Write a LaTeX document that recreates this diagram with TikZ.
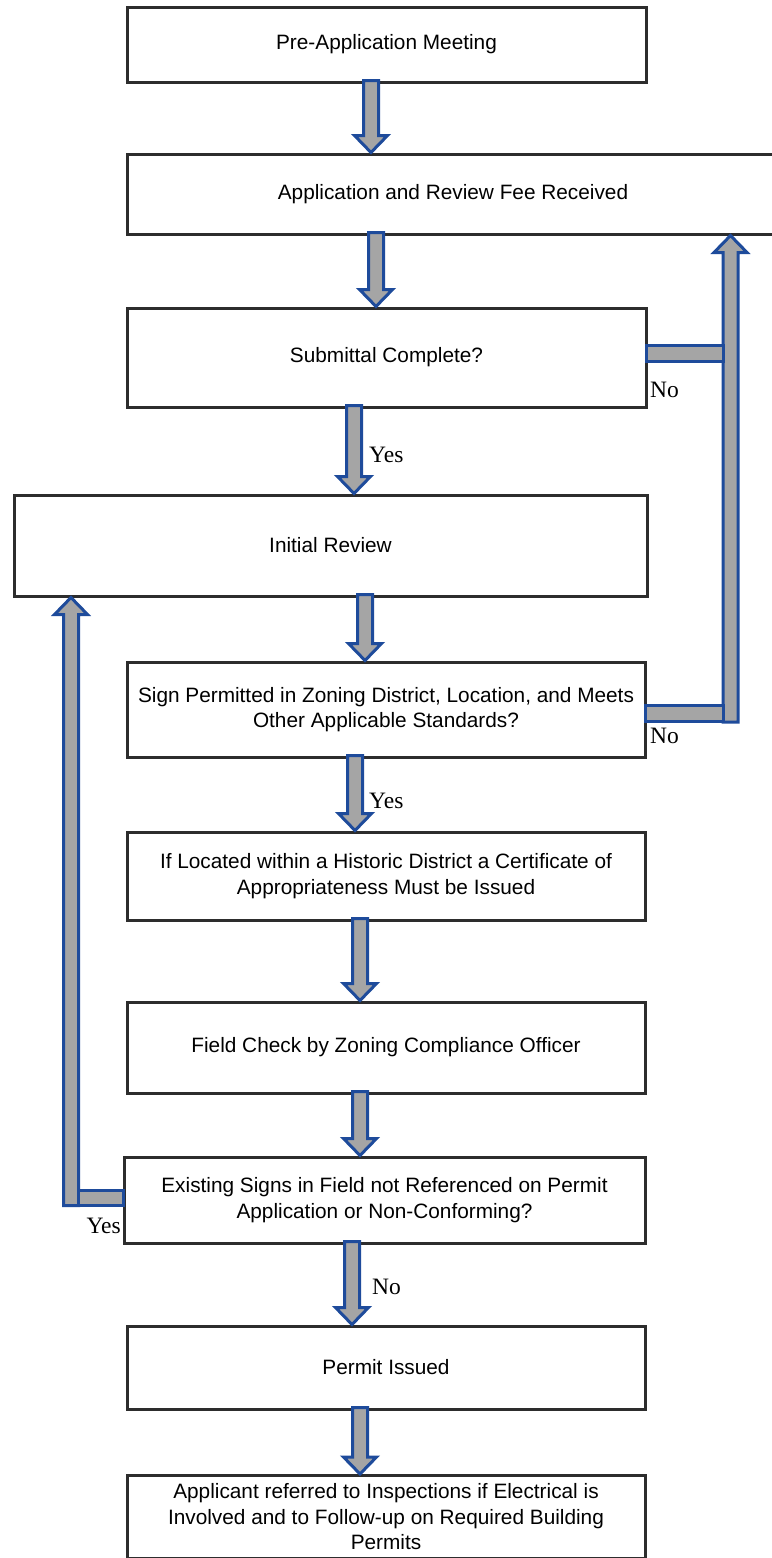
\documentclass[tikz,border=0pt]{standalone}
\usepackage{fontspec}
\setmainfont{Liberation Sans}
\newfontfamily\tms{Liberation Serif}
\usetikzlibrary{calc}
\definecolor{arrblue}{RGB}{30,75,155}
\definecolor{arrgray}{RGB}{165,165,165}
\definecolor{boxline}{RGB}{45,45,45}
\def\sw{7.5pt}
\def\hw{16.5pt}
\def\hl{17pt}
\newcommand\downarr[3]{\draw[barrow] let \p1=(#1.south), \p2=(#2.north) in
 ({#3pt-\sw},{\y1+3pt}) -- ({#3pt+\sw},{\y1+3pt}) -- ({#3pt+\sw},{\y2+\hl}) -- ({#3pt+\hw},{\y2+\hl}) -- ({#3pt},{\y2}) -- ({#3pt-\hw},{\y2+\hl}) -- ({#3pt-\sw},{\y2+\hl}) -- cycle;}
\newcommand\uparr[3]{\draw[barrow] let \p1=(#1), \p2=(#2.south) in
 ({#3pt-\sw},{\y1}) -- ({#3pt+\sw},{\y1}) -- ({#3pt+\sw},{\y2-\hl}) -- ({#3pt+\hw},{\y2-\hl}) -- ({#3pt},{\y2}) -- ({#3pt-\hw},{\y2-\hl}) -- ({#3pt-\sw},{\y2-\hl}) -- cycle;}
\tikzset{
  box/.style={draw=boxline, line width=3pt, fill=white, rectangle, inner sep=0pt, align=center,
    font=\fontsize{20.8}{25.5}\selectfont},
  barrow/.style={draw=arrblue, fill=arrgray, line width=3pt, line join=miter},
  lab/.style={font=\tms\fontsize{23.5}{26}\selectfont, inner sep=0pt}
}
\begin{document}
\begin{tikzpicture}[x=1pt,y=-1pt]
\useasboundingbox (0,0) rectangle (771,1558);
% boxes
\node[box, minimum width=519pt, minimum height=75pt] (pre) at (386.5,44.5) {Pre-Application Meeting};
\node[box, minimum width=652pt, minimum height=80pt] (app) at (453,194) {Application and Review Fee Received};
\node[box, minimum width=519pt, minimum height=99pt] (sub) at (386.5,357.5) {Submittal Complete?};
\node[box, minimum width=633pt, minimum height=101pt] (init) at (330.5,545.5) {Initial Review};
\node[box, minimum width=518pt, minimum height=95pt] (sign) at (386,709.5) {Sign Permitted in Zoning District, Location, and Meets\\Other Applicable Standards?};
\node[box, minimum width=518pt, minimum height=88pt] (hist) at (386,876) {If Located within a Historic District a Certificate of\\Appropriateness Must be Issued};
\node[box, minimum width=518pt, minimum height=91pt] (field) at (386,1047.5) {Field Check by Zoning Compliance Officer};
\node[box, minimum width=521pt, minimum height=86pt] (exist) at (384.5,1200) {Existing Signs in Field not Referenced on Permit\\Application or Non-Conforming?};
\node[box, minimum width=518pt, minimum height=83pt] (permit) at (386,1367.5) {Permit Issued};
\node[box, minimum width=518pt, minimum height=83pt] (appl) at (386,1517) {Applicant referred to Inspections if Electrical is\\Involved and to Follow-up on Required Building\\Permits};
% main flow arrows
\downarr{pre}{app}{371}
\downarr{app}{sub}{376}
\downarr{sub}{init}{354}
\downarr{init}{sign}{365}
\downarr{sign}{hist}{355}
\downarr{hist}{field}{360}
\downarr{field}{exist}{360}
\downarr{exist}{permit}{352}
\downarr{permit}{appl}{360}
% right feedback loop
\coordinate (rbot) at ([yshift=-12.5pt]sign.east);
\uparr{rbot}{app}{730.5}
\draw[barrow] let \p1=(sign.east) in (\x1-1pt,\y1-4pt+8pt) rectangle (723pt,\y1-4pt-8pt);
\draw[barrow] let \p1=(sub.east) in (\x1-1pt,\y1+4pt+8pt) rectangle (723pt,\y1+4pt-8pt);
% left feedback loop
\coordinate (lbot) at ([yshift=-5.5pt]exist.west);
\uparr{lbot}{init}{71}
\draw[barrow] let \p1=(exist.west) in (78.5pt,\y1+2.5pt+7.5pt) rectangle (\x1+1pt,\y1+2.5pt-7.5pt);
% labels
\node[lab, anchor=base west] (no1) at (650,397) {No};
\node[lab, anchor=base west] (no2) at (650,743) {No};
\node[lab, anchor=base west] (yes1) at (369,462) {Yes};
\node[lab, anchor=base west] (yes2) at (369,808) {Yes};
\node[lab, anchor=base west] (no3) at (372,1294) {No};
\node[lab, anchor=base east] (yes3) at (121,1233) {Yes};
\end{tikzpicture}
\end{document}
